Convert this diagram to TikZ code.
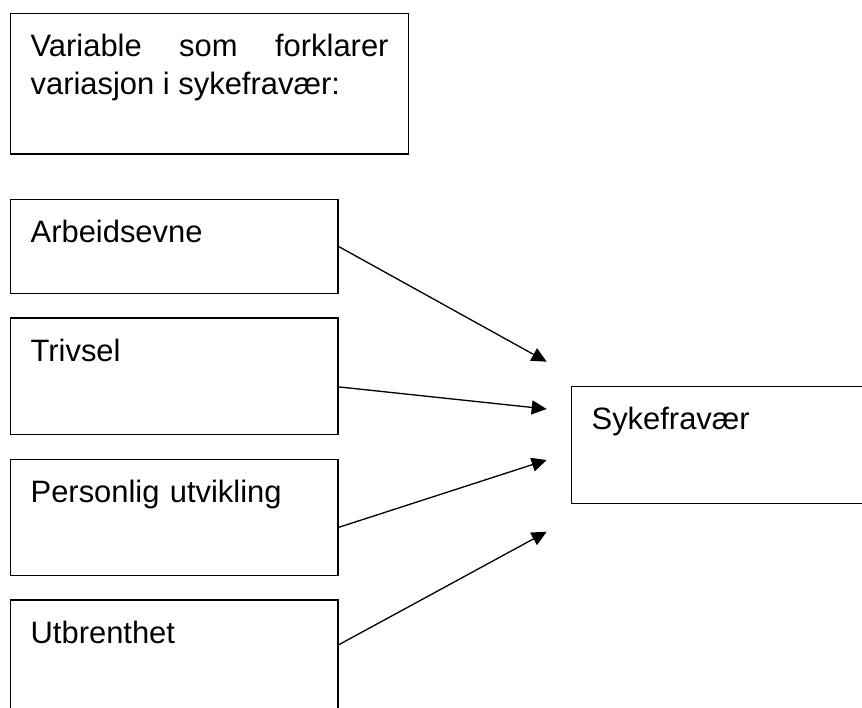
\documentclass[tikz,border=0pt]{standalone}
\usepackage{fontspec}
\setmainfont{Liberation Sans}
\usetikzlibrary{ arrows.meta, % For the triangle tips
                 positioning, % For easy node-relative placements
               }
\tikzstyle{box} = [rectangle, draw=black, line width=0.75pt, anchor=north west, align=left, inner xsep=0.4cm, inner ysep=0cm, text height=0.86cm, font=\fontsize{17.6pt}{21.8pt}\selectfont]
\tikzstyle{factor} = [box, text width=5.746cm]
\tikzstyle{effect} = [-{Triangle[length=0.3cm, width=0.28cm]}, line width=0.75pt]

\begin{document}
\begin{tikzpicture}[x=0.02cm, y=-0.02cm]
  \clip (0, 0) rectangle (862, 707);

  \node (title) [box, align=justify, text width=7.16cm, text depth=1.954cm] at (10, 12.7) {Variable som forklarer\linebreak variasjon i sykefravær:};

  \node (arbeid) [factor, text depth=1.012cm] at (10, 199) {Arbeidsevne};
  \node (trivsel) [factor, text depth=1.474cm, below=0.47cm of arbeid] {Trivsel};
  \node (utvikling) [factor, text depth=1.454cm, below=0.47cm of trivsel] {Personlig utvikling};
  \node (utbrent) [factor, text depth=1.6cm, below=0.47cm of utvikling] {Utbrenthet};

  \node (syke) [factor, text depth=1.474cm] at (571, 386) {Sykefravær};

  \coordinate (tip1) at (546.7, 361.7);
  \coordinate (tip2) at (546.7, 409);
  \coordinate (tip3) at (546.7, 460);
  \coordinate (tip4) at (546.7, 531.7);

  \draw[effect] (arbeid.east) -- (tip1);
  \draw[effect] ([yshift=-1.39cm]trivsel.north east) -- (tip2);
  \draw[effect] ([yshift=-1.37cm]utvikling.north east) -- (tip3);
  \draw[effect] ([yshift=-0.91cm]utbrent.north east) -- (tip4); % box runs off the page
\end{tikzpicture}
\end{document}
